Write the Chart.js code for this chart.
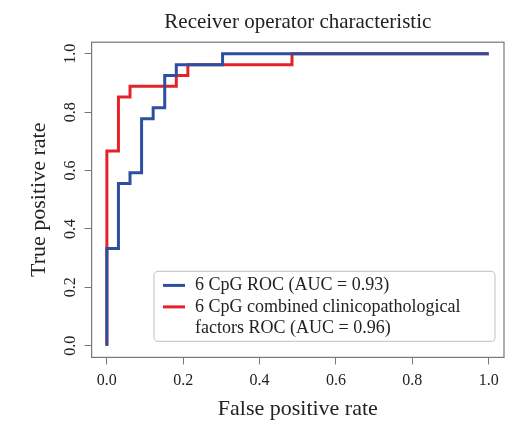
<!DOCTYPE html>
<html lang="en">

<head>
  <meta charset="UTF-8" />
  <title>ROC curve</title>
  <script src="https://cdn.jsdelivr.net/npm/chart.js"></script>
  <style>
    body { margin: 0; background: #fff; }
    canvas { display: block; }
  </style>
</head>

<body>
<canvas id="roc" width="524" height="434"></canvas>
<script>
  // ROC points (false positive rate, true positive rate)
  const cpgFpr = [0, 0, 0.0303, 0.0606, 0.0909, 0.1212, 0.1515, 0.1818, 0.303, 1.0];
  const cpgTpr = [0, 0.333, 0.556, 0.593, 0.778, 0.815, 0.926, 0.963, 1.0, 1.0];
  const combFpr = [0, 0, 0.0303, 0.0606, 0.1818, 0.2121, 0.4848, 1.0];
  const combTpr = [0, 0.667, 0.852, 0.889, 0.926, 0.963, 1.0, 1.0];

  const seriesLabels = [
    ['6 CpG ROC (AUC = 0.93)'],
    ['6 CpG combined clinicopathological', 'factors ROC (AUC = 0.96)']
  ];
  const seriesColors = ['#2d4f9f', '#e5222a'];
  const tickValues = [0, 0.2, 0.4, 0.6, 0.8, 1.0];

  const serif = "'Liberation Serif', 'DejaVu Serif', serif";
  const toPoints = (xs, ys) => xs.map((x, i) => ({ x: x, y: ys[i] }));
  const setTicks = scale => { scale.ticks = tickValues.map(v => ({ value: v })); };

  // R-style box around the plot plus the boxed legend in the lower right
  const boxAndLegend = {
    id: 'boxAndLegend',
    afterDatasetsDraw(chart) {
      const { ctx, chartArea: a } = chart;
      ctx.save();
      ctx.strokeStyle = '#777';
      ctx.lineWidth = 1.2;
      ctx.strokeRect(a.left, a.top, a.right - a.left, a.bottom - a.top);

      const w = 341, h = 70;
      const x0 = a.right - 9 - w, y0 = a.bottom - 16 - h;
      ctx.beginPath();
      ctx.roundRect(x0, y0, w, h, 4);
      ctx.fillStyle = '#fff';
      ctx.fill();
      ctx.strokeStyle = '#ccc';
      ctx.lineWidth = 1.2;
      ctx.stroke();

      ctx.font = '18px ' + serif;
      ctx.textBaseline = 'middle';
      ctx.fillStyle = '#222';
      let y = y0 + 14;
      chart.data.datasets.forEach((ds, i) => {
        ctx.beginPath();
        ctx.moveTo(x0 + 9, y);
        ctx.lineTo(x0 + 31, y);
        ctx.strokeStyle = ds.borderColor;
        ctx.lineWidth = 3;
        ctx.stroke();
        seriesLabels[i].forEach(line => {
          ctx.fillText(line, x0 + 41, y);
          y += 21.5;
        });
      });
      ctx.restore();
    }
  };

  new Chart(document.getElementById('roc'), {
    type: 'line',
    data: {
      datasets: [
        {
          label: seriesLabels[0].join(' '),
          data: toPoints(cpgFpr, cpgTpr),
          borderColor: seriesColors[0],
          borderWidth: 3,
          pointRadius: 0,
          stepped: 'before'
        },
        {
          label: seriesLabels[1].join(' '),
          data: toPoints(combFpr, combTpr),
          borderColor: seriesColors[1],
          borderWidth: 3,
          pointRadius: 0,
          stepped: 'before'
        }
      ]
    },
    options: {
      responsive: false,
      animation: false,
      layout: { padding: { left: 10, right: 20, top: 0, bottom: 4 } },
      plugins: {
        legend: { display: false },
        tooltip: { enabled: false },
        title: {
          display: true,
          text: 'Receiver operator characteristic',
          fullSize: false,
          color: '#222',
          font: { family: serif, size: 21, weight: 'normal' },
          padding: { top: 10, bottom: 7 }
        }
      },
      scales: {
        x: {
          type: 'linear',
          min: -0.04,
          max: 1.04,
          afterBuildTicks: setTicks,
          border: { display: false },
          grid: { drawOnChartArea: false, tickLength: 7, color: '#777' },
          ticks: {
            padding: 7,
            color: '#222',
            font: { family: serif, size: 16 },
            callback: v => v.toFixed(1)
          },
          title: {
            display: true,
            text: 'False positive rate',
            color: '#222',
            font: { family: serif, size: 22 },
            padding: { top: -2, bottom: 8 }
          }
        },
        y: {
          min: -0.04,
          max: 1.04,
          afterBuildTicks: setTicks,
          border: { display: false },
          grid: { drawOnChartArea: false, tickLength: 7, color: '#777' },
          ticks: {
            padding: 4,
            minRotation: 90,
            maxRotation: 90,
            crossAlign: 'center',
            color: '#222',
            font: { family: serif, size: 16 },
            callback: v => v.toFixed(1)
          },
          title: {
            display: true,
            text: 'True positive rate',
            color: '#222',
            font: { family: serif, size: 22 },
            padding: { top: 16, bottom: 5 }
          }
        }
      }
    },
    plugins: [boxAndLegend]
  });
</script>
</body>

</html>
